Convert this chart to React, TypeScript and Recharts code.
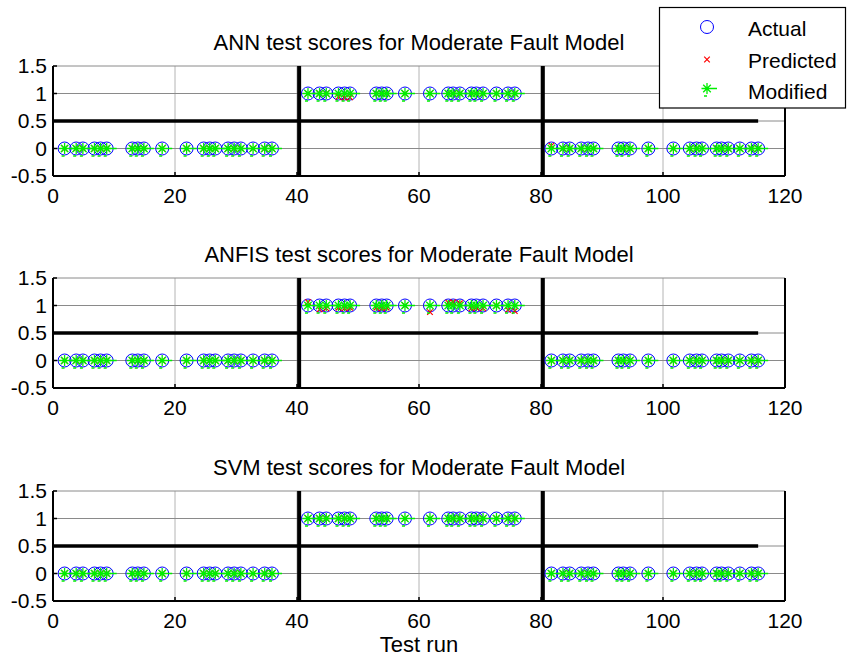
import React from "react";
import { ScatterChart, Scatter, XAxis, YAxis, CartesianGrid, ReferenceLine } from "recharts";

// test run index of every scored sample (three fault classes of 20 samples each)
const testRuns = [
  1.9, 3.8, 4.9, 6.8, 7.8, 8.8, 13.0, 13.9, 14.9, 17.9, 21.9, 24.7, 25.7, 26.6, 28.7, 29.7, 30.8, 32.8, 34.7, 35.9,
  41.8, 43.7, 44.8, 46.8, 47.8, 48.7, 53.0, 53.9, 54.7, 57.7, 61.8, 64.8, 65.6, 66.7, 68.6, 69.4, 70.5, 72.7, 74.6, 75.7,
  81.7, 83.6, 84.7, 86.6, 87.7, 88.6, 92.7, 93.5, 94.6, 97.6, 101.7, 104.4, 105.5, 106.4, 108.8, 109.6, 110.7, 112.6, 114.5, 115.6,
];

const actual = [
  0, 0, 0, 0, 0, 0, 0, 0, 0, 0, 0, 0, 0, 0, 0, 0, 0, 0, 0, 0,
  1, 1, 1, 1, 1, 1, 1, 1, 1, 1, 1, 1, 1, 1, 1, 1, 1, 1, 1, 1,
  0, 0, 0, 0, 0, 0, 0, 0, 0, 0, 0, 0, 0, 0, 0, 0, 0, 0, 0, 0,
];

const annPredicted = [
  0, 0, 0, 0, 0, 0, 0, 0, 0, 0, 0, 0, 0, 0, 0, 0, 0, 0, 0, 0,
  1, 1, 1, 0.94, 0.92, 0.93, 1, 1, 1, 1, 1, 1, 1, 1, 1, 1, 1, 1, 1, 1,
  0.05, 0, 0, 0, 0, 0, 0, 0, 0, 0, 0, 0, 0, 0, 0, 0, 0, 0, 0, 0,
];
const anfisPredicted = [
  0, 0, 0, 0, 0, 0, 0, 0, 0, 0, 0, 0, 0, 0, 0, 0, 0, 0, 0, 0,
  1.06, 0.93, 0.95, 0.96, 0.95, 0.96, 0.96, 0.95, 0.96, 1.0, 0.88, 1.05, 1.06, 1.04, 0.95, 0.96, 0.95, 1.0, 0.92, 0.9,
  0, 0, 0, 0, 0, 0, 0, 0, 0, 0, 0, 0, 0, 0, 0, 0, 0, 0, 0, 0,
];
const svmPredicted = [
  0, 0, 0, 0, 0, 0, 0, 0, 0, 0, 0, 0, 0, 0, 0, 0, 0, 0, 0, 0,
  1, 1, 1, 1, 1, 1, 1, 1, 1, 1, 1, 1, 1, 1, 1, 1, 1, 1, 1, 1,
  0, 0, 0, 0, 0, 0, 0, 0, 0, 0, 0, 0, 0, 0, 0, 0, 0, 0, 0, 0,
];

const annModified = [
  0, 0, 0, 0, 0, 0, 0, 0, 0, 0, 0, 0, 0, 0, 0, 0, 0, 0, 0, 0,
  1, 1, 1, 1, 1, 1, 1, 1, 1, 1, 1, 1, 1, 1, 1, 1, 1, 1, 1, 1,
  0, 0, 0, 0, 0, 0, 0, 0, 0, 0, 0, 0, 0, 0, 0, 0, 0, 0, 0, 0,
];
const anfisModified = annModified;
const svmModified = annModified;

const xTicks = [0, 20, 40, 60, 80, 100, 120];
const yTicks = [-0.5, 0, 0.5, 1, 1.5];
const classBounds = [40.35, 80.3];
const threshold = 0.5;
const thresholdEnd = 115.6;

const titles = [
  "ANN test scores for Moderate Fault Model",
  "ANFIS test scores for Moderate Fault Model",
  "SVM test scores for Moderate Fault Model",
];
const legendNames = ["Actual", "Predicted", "Modified"];

const FONT = '"Liberation Sans", Arial, sans-serif';
const FS = 21;
const TITLE_FS = 22;
const panelTops = [52, 264, 477];
const plotTops = [66, 278, 491];

const CircleMark = (p: any) => (
  <circle cx={p.cx} cy={p.cy} r={6.5} fill="none" stroke="#0000ff" strokeWidth={1} />
);

const crossPath = (cx: number, cy: number) => {
  const s = 2.8;
  return `M${cx - s},${cy - s}L${cx + s},${cy + s}M${cx - s},${cy + s}L${cx + s},${cy - s}`;
};
const CrossMark = (p: any) => (
  <path d={crossPath(p.cx, p.cy)} stroke="#ff0000" strokeWidth={1.2} fill="none" />
);

const starPath = (cx: number, cy: number) => {
  const d = 3.8;
  return (
    `M${cx - 5.5},${cy}L${cx + 10},${cy}` +
    `M${cx},${cy - 5.5}L${cx},${cy + 5.5}` +
    `M${cx - d},${cy - d}L${cx + d},${cy + d}` +
    `M${cx - d},${cy + d}L${cx + d},${cy - d}` +
    `M${cx - 3},${cy + 7.5}L${cx},${cy + 7.5}`
  );
};
const StarMark = (p: any) => (
  <path d={starPath(p.cx, p.cy)} stroke="#00ee00" strokeWidth={1.3} fill="none" />
);

function Panel({ top, predicted, modified }: { top: number; predicted: number[]; modified: number[] }) {
  const act = testRuns.map((x, i) => ({ x, y: actual[i] }));
  const pred = testRuns.map((x, i) => ({ x, y: predicted[i] }));
  const mod = testRuns.map((x, i) => ({ x, y: modified[i] }));
  const tickStyle = { fill: "#000", fontSize: FS, fontFamily: FONT };
  return (
    <div style={{ position: "absolute", left: 0, top, width: 849, height: 164 }}>
      <ScatterChart width={849} height={164} margin={{ top: 14, right: 63, bottom: 0, left: 0 }}>
        <CartesianGrid horizontal={false} stroke="#b4b4b4" />
        <CartesianGrid vertical={false} stroke="#8a8a8a" />
        <XAxis
          type="number" dataKey="x" domain={[0, 120]} ticks={xTicks} interval={0} height={40}
          tickSize={-4} tickMargin={16} tick={tickStyle}
          axisLine={{ stroke: "#000", strokeWidth: 2 }} tickLine={{ stroke: "#000", strokeWidth: 1.5 }}
        />
        <XAxis
          xAxisId="top" orientation="top" type="number" domain={[0, 120]} ticks={xTicks} interval={0}
          height={0} tickSize={-4} tick={false}
          axisLine={{ stroke: "#000", strokeWidth: 2 }} tickLine={{ stroke: "#000", strokeWidth: 1.5 }}
        />
        <YAxis
          type="number" dataKey="y" domain={[-0.5, 1.5]} ticks={yTicks} interval={0} width={53}
          tickSize={-4} tickMargin={10} tick={tickStyle}
          axisLine={{ stroke: "#000", strokeWidth: 2 }} tickLine={{ stroke: "#000", strokeWidth: 1.5 }}
        />
        <YAxis
          yAxisId="right" orientation="right" type="number" domain={[-0.5, 1.5]} ticks={yTicks} interval={0}
          width={1} tickSize={-4} tick={false}
          axisLine={{ stroke: "#000", strokeWidth: 2 }} tickLine={{ stroke: "#000", strokeWidth: 1.5 }}
        />
        {classBounds.map((b) => (
          <ReferenceLine key={b} x={b} stroke="#000" strokeWidth={4} />
        ))}
        <ReferenceLine
          segment={[{ x: 0, y: threshold }, { x: thresholdEnd, y: threshold }]}
          stroke="#000" strokeWidth={3.5}
        />
        <Scatter data={act} shape={CircleMark} isAnimationActive={false} />
        <Scatter data={pred} shape={CrossMark} isAnimationActive={false} />
        <Scatter data={mod} shape={StarMark} isAnimationActive={false} />
      </ScatterChart>
    </div>
  );
}

export default function App() {
  const preds = [annPredicted, anfisPredicted, svmPredicted];
  const mods = [annModified, anfisModified, svmModified];
  return (
    <div style={{ position: "absolute", left: 0, top: 0, width: 849, height: 658, background: "#fff" }}>
      {panelTops.map((t, i) => (
        <Panel key={i} top={t} predicted={preds[i]} modified={mods[i]} />
      ))}
      <svg
        width={849} height={658}
        style={{ position: "absolute", left: 0, top: 0, pointerEvents: "none" }}
        fontFamily={FONT} fontSize={FS}
      >
        {titles.map((t, i) => (
          <text key={t} x={419} y={plotTops[i] - 16} textAnchor="middle" fontSize={TITLE_FS} fill="#000">{t}</text>
        ))}
        <text x={419} y={652} textAnchor="middle" fontSize={TITLE_FS} fill="#000">Test run</text>
        <rect x={659.5} y={7.5} width={186} height={100.5} fill="#fff" stroke="#000" strokeWidth={1.2} />
        <circle cx={707} cy={27} r={6.5} fill="none" stroke="#0000ff" strokeWidth={1} />
        <path d={crossPath(707, 59.5)} stroke="#ff0000" strokeWidth={1.2} fill="none" />
        <path d={starPath(707, 88.5)} stroke="#00ee00" strokeWidth={1.3} fill="none" />
        {legendNames.map((n, i) => (
          <text key={n} x={748} y={[35.5, 67.5, 98.5][i]} fill="#000">{n}</text>
        ))}
      </svg>
    </div>
  );
}
